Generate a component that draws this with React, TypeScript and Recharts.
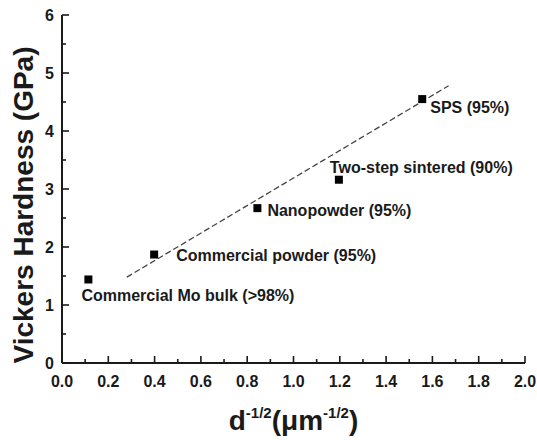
import React from 'react';
import { ScatterChart, Scatter, XAxis, YAxis, ReferenceLine } from 'recharts';

// d^-1/2 (um^-1/2) and Vickers hardness (GPa) per sample
const grainX = [0.114, 0.398, 0.844, 1.196, 1.556];
const hardness = [1.44, 1.87, 2.67, 3.16, 4.55];
const sampleNames = [
  'Commercial Mo bulk (>98%)',
  'Commercial powder (95%)',
  'Nanopowder (95%)',
  'Two-step sintered (90%)',
  'SPS (95%)',
];

// ends of the dashed Hall-Petch fit
const fitX = [0.28, 1.67];
const fitY = [1.48, 4.78];

const xTicks = [0, 0.1, 0.2, 0.3, 0.4, 0.5, 0.6, 0.7, 0.8, 0.9, 1.0, 1.1, 1.2, 1.3, 1.4, 1.5, 1.6, 1.7, 1.8, 1.9, 2.0];
const yTicks = [0, 0.5, 1, 1.5, 2, 2.5, 3, 3.5, 4, 4.5, 5, 5.5, 6];

// label placement relative to each marker [dx, dy to baseline]
const labelOffsets: Record<string, [number, number]> = {
  'Commercial Mo bulk (>98%)': [-7, 22],
  'Commercial powder (95%)': [22, 6],
  'Nanopowder (95%)': [10, 8],
  'Two-step sintered (90%)': [-9, -7],
  'SPS (95%)': [8, 14],
};

const FONT = '"Liberation Sans", Arial, sans-serif';
const INK = '#1a1a1a';

const data = grainX.map((x, i) => ({ x, y: hardness[i], name: sampleNames[i] }));

const XTick = (props: any) => {
  const { x, y, payload } = props;
  const v = payload.value;
  const major = Math.round(v * 10) % 2 === 0;
  return (
    <g>
      <line x1={x} x2={x} y1={y} y2={y - (major ? 7 : 4)} stroke={INK} strokeWidth={1.6} />
      {major && (
        <text x={x} y={y + 24} textAnchor="middle" fontFamily={FONT} fontWeight="bold" fontSize={16} fill={INK}>
          {v.toFixed(1)}
        </text>
      )}
    </g>
  );
};

const YTick = (props: any) => {
  const { x, y, payload } = props;
  const v = payload.value;
  const major = Number.isInteger(v);
  return (
    <g>
      <line x1={x} x2={x + (major ? 7 : 4)} y1={y} y2={y} stroke={INK} strokeWidth={1.6} />
      {major && (
        <text x={x - 8} y={y + 6} textAnchor="end" fontFamily={FONT} fontWeight="bold" fontSize={16} fill={INK}>
          {v}
        </text>
      )}
    </g>
  );
};

const Marker = (props: any) => {
  const { cx, cy, payload } = props;
  const [dx, dy] = labelOffsets[payload.name] || [8, 6];
  return (
    <g>
      <rect x={cx - 4} y={cy - 4} width={8} height={8} fill="#000" />
      <text x={cx + dx} y={cy + dy} fontFamily={FONT} fontWeight="bold" fontSize={16} fill={INK}>
        {payload.name}
      </text>
    </g>
  );
};

const YTitle = (props: any) => {
  const { viewBox } = props;
  const cy = viewBox.y + viewBox.height / 2 + 16;
  return (
    <text
      x={23}
      y={cy}
      transform={`rotate(-90 23 ${cy})`}
      textAnchor="middle"
      dominantBaseline="central"
      fontFamily={FONT}
      fontWeight="bold"
      fontSize={28}
      fill={INK}
    >
      Vickers Hardness (GPa)
    </text>
  );
};

const XTitle = (props: any) => {
  const { viewBox } = props;
  const cx = viewBox.x + viewBox.width / 2;
  return (
    <text x={cx} y={430} textAnchor="middle" fontFamily={FONT} fontWeight="bold" fontSize={28} fill={INK}>
      d
      <tspan fontSize={15} dy={-12}>-1/2</tspan>
      <tspan dy={12}>(</tspan>
      <tspan>μm</tspan>
      <tspan fontSize={15} dy={-12}>-1/2</tspan>
      <tspan dy={12}>)</tspan>
    </text>
  );
};

export default function App() {
  return (
    <div style={{ position: 'absolute', left: 0, top: 0, background: '#fff' }}>
      <ScatterChart width={537} height={440} margin={{ top: 15, right: 12, left: 0, bottom: 0 }}>
        <XAxis
          dataKey="x"
          type="number"
          domain={[0, 2]}
          ticks={xTicks}
          interval={0}
          tickSize={0}
          tickMargin={0}
          tickLine={false}
          tick={<XTick />}
          axisLine={{ stroke: INK, strokeWidth: 2 }}
          height={77}
          label={<XTitle />}
        />
        <YAxis
          dataKey="y"
          type="number"
          domain={[0, 6]}
          ticks={yTicks}
          interval={0}
          tickSize={0}
          tickMargin={0}
          tickLine={false}
          tick={<YTick />}
          axisLine={{ stroke: INK, strokeWidth: 2 }}
          width={62}
          label={<YTitle />}
        />
        <XAxis
          xAxisId="top"
          orientation="top"
          type="number"
          domain={[0, 2]}
          height={0}
          tick={false}
          tickLine={false}
          axisLine={{ stroke: INK, strokeWidth: 2 }}
        />
        <YAxis
          yAxisId="right"
          orientation="right"
          type="number"
          domain={[0, 6]}
          width={0}
          tick={false}
          tickLine={false}
          axisLine={{ stroke: INK, strokeWidth: 2 }}
        />
        <ReferenceLine
          segment={[
            { x: fitX[0], y: fitY[0] },
            { x: fitX[1], y: fitY[1] },
          ]}
          stroke="#444"
          strokeWidth={1.3}
          strokeDasharray="6 3"
        />
        <Scatter data={data} shape={<Marker />} isAnimationActive={false} />
      </ScatterChart>
    </div>
  );
}
